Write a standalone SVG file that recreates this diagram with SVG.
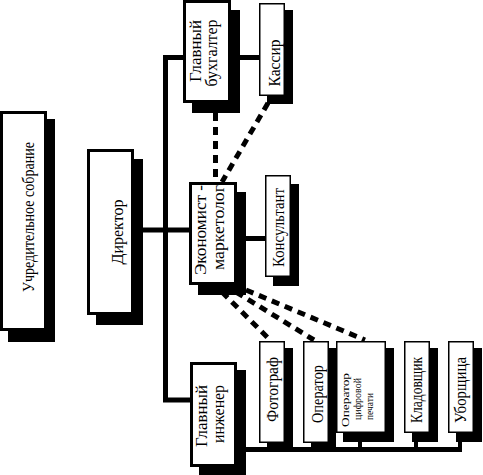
<svg xmlns="http://www.w3.org/2000/svg" width="483" height="475" viewBox="0 0 483 475">
<style>
.bg{fill:#fff}
.sh{fill:#000}
.bx{fill:#fff;stroke:#000;stroke-width:3}
.tb{fill:#fff;stroke:#000;stroke-width:1.5}
.ln{stroke:#000;stroke-width:5;fill:none}
.st{stroke:#000;stroke-width:4;fill:none}
.ds{stroke:#000;stroke-width:5;fill:none;stroke-dasharray:8 6}
text{font-family:"Liberation Serif","Times New Roman",serif;font-size:16px;fill:#000;text-anchor:middle}
.sm{font-size:11px;text-anchor:start}
</style>
<rect class="bg" x="0" y="0" width="483" height="475"/>
<g id="connectors">
<path class="ln" d="M165.5,57.5 V400 H192"/>
<path class="ln" d="M163,57.5 H185"/>
<path class="ln" d="M229,57.5 H261"/>
<path class="ln" d="M140,230 H191"/>
<path class="ln" d="M235,238.5 H267"/>
<path class="ln" d="M235,449.5 H462"/>
<path class="st" d="M270.5,440 V450 M315,440 V450 M360,440 V450 M416,440 V450 M460,440 V450"/>
<path class="ds" d="M215.5,113 V182"/>
<path class="ds" d="M268,103 L222,182"/>
<path class="ds" d="M222,292 L270,340"/>
<path class="ds" d="M236,292 L314,340"/>
<path class="ds" d="M246,290 L365,340"/>
</g>
<g id="uchreditelnoe">
<rect class="sh" x="8" y="119" width="47" height="223"/>
<rect class="bx" x="1.5" y="112.5" width="44" height="217"/>
<text transform="translate(34,217) rotate(-90)" textLength="150" lengthAdjust="spacingAndGlyphs">Учредительное собрание</text>
</g>
<g id="direktor">
<rect class="sh" x="96" y="159" width="47" height="166"/>
<rect class="bx" x="88.5" y="150.5" width="44" height="163"/>
<text transform="translate(123,232) rotate(-90)" textLength="65" lengthAdjust="spacingAndGlyphs">Директор</text>
</g>
<g id="glavbuh">
<rect class="sh" x="192" y="10" width="48" height="103"/>
<rect class="bx" x="184.5" y="1.5" width="45" height="100"/>
<text transform="translate(201,51) rotate(-90)" textLength="62" lengthAdjust="spacingAndGlyphs">Главный</text>
<text transform="translate(217,53) rotate(-90)" textLength="67" lengthAdjust="spacingAndGlyphs">бухгалтер</text>
</g>
<g id="kassir">
<rect class="sh" x="267" y="10" width="26" height="94"/>
<rect class="tb" x="259.75" y="3.75" width="24.5" height="91.5"/>
<text transform="translate(280,63) rotate(-90)" textLength="47" lengthAdjust="spacingAndGlyphs">Кассир</text>
</g>
<g id="ekonomist">
<rect class="sh" x="198" y="192" width="48" height="103"/>
<rect class="bx" x="190.5" y="183.5" width="45" height="100"/>
<text transform="translate(206,230) rotate(-90)" textLength="90" lengthAdjust="spacingAndGlyphs">Экономист -</text>
<text transform="translate(224,227.5) rotate(-90)" textLength="85" lengthAdjust="spacingAndGlyphs">маркетолог</text>
</g>
<g id="konsultant">
<rect class="sh" x="273" y="184" width="26" height="102"/>
<rect class="tb" x="265.75" y="175.75" width="24.5" height="100.5"/>
<text transform="translate(284,227.5) rotate(-90)" textLength="79" lengthAdjust="spacingAndGlyphs">Консультант</text>
</g>
<g id="glavinzhener">
<rect class="sh" x="199" y="370" width="47" height="105"/>
<rect class="bx" x="191.5" y="363.5" width="44" height="102"/>
<text transform="translate(207,416) rotate(-90)" textLength="62" lengthAdjust="spacingAndGlyphs">Главный</text>
<text transform="translate(224,414) rotate(-90)" textLength="58" lengthAdjust="spacingAndGlyphs">инженер</text>
</g>
<g id="fotograf">
<rect class="sh" x="267" y="348" width="26" height="100"/>
<rect class="tb" x="259.75" y="341.75" width="24.5" height="100.5"/>
<text transform="translate(278,389.5) rotate(-90)" textLength="65" lengthAdjust="spacingAndGlyphs">Фотограф</text>
</g>
<g id="operator">
<rect class="sh" x="311" y="348" width="25" height="100"/>
<rect class="tb" x="303.75" y="341.75" width="24.5" height="100.5"/>
<text transform="translate(323,394) rotate(-90)" textLength="58" lengthAdjust="spacingAndGlyphs">Оператор</text>
</g>
<g id="operator-cifr">
<rect class="sh" x="343" y="348" width="51" height="94"/>
<rect class="tb" x="336.75" y="341.75" width="48.5" height="90.5"/>
<text class="sm" transform="translate(349,427) rotate(-90)" textLength="54" lengthAdjust="spacingAndGlyphs">Оператор</text>
<text class="sm" transform="translate(361,420) rotate(-90)" textLength="42" lengthAdjust="spacingAndGlyphs">цифровой</text>
<text class="sm" transform="translate(373,420) rotate(-90)" textLength="27" lengthAdjust="spacingAndGlyphs">печати</text>
</g>
<g id="kladovshik">
<rect class="sh" x="412" y="348" width="26" height="94"/>
<rect class="tb" x="404.75" y="341.75" width="24.5" height="90.5"/>
<text transform="translate(422,390) rotate(-90)" textLength="66" lengthAdjust="spacingAndGlyphs">Кладовщик</text>
</g>
<g id="uborshica">
<rect class="sh" x="456" y="348" width="26" height="94"/>
<rect class="tb" x="448.75" y="341.75" width="24.5" height="90.5"/>
<text transform="translate(466,390) rotate(-90)" textLength="66" lengthAdjust="spacingAndGlyphs">Уборщица</text>
</g>
</svg>
